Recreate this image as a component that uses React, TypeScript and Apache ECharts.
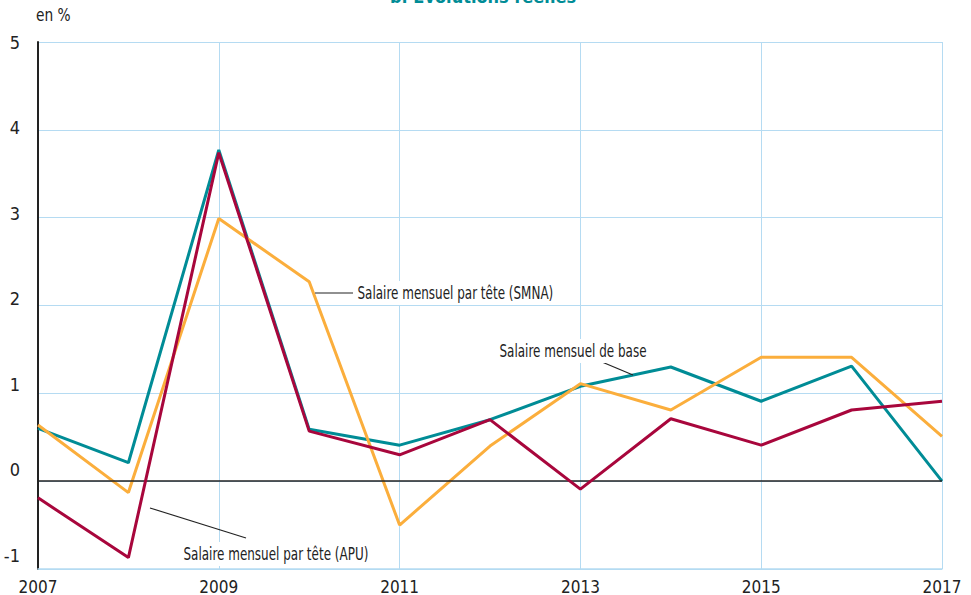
import React, { useEffect, useRef } from "react";
import * as echarts from "echarts";

const years = ["2007", "2008", "2009", "2010", "2011", "2012", "2013", "2014", "2015", "2016", "2017"];
const baseSalary = [0.6, 0.21, 3.77, 0.59, 0.41, 0.7, 1.08, 1.3, 0.91, 1.31, 0];
const smna = [0.64, -0.13, 2.99, 2.27, -0.5, 0.4, 1.11, 0.81, 1.41, 1.41, 0.51];
const apu = [-0.19, -0.87, 3.74, 0.57, 0.3, 0.7, -0.09, 0.71, 0.41, 0.81, 0.91];
const yMin = -1;
const yMax = 5;
const yStep = 1;

const FONT = '"DejaVu Sans Condensed", "Liberation Sans Narrow", "Roboto", sans-serif';
const GRID = "#b5dbf2";
const TEAL = "#008c96";
const ORANGE = "#fbae3c";
const RED = "#a8063c";
const INK = "#222";

// rich styles to reproduce the slightly compressed spacing of the y tick labels
const yRich: Record<string, any> = {};
for (let i = 0; i <= yMax - yMin; i++) {
  yRich["l" + i] = {
    fontSize: 18,
    color: INK,
    fontFamily: FONT,
    padding: [0, 0, Math.round(i * 4.6), 0],
  };
}

export default function App() {
  const ref = useRef<HTMLDivElement>(null);
  useEffect(() => {
    const chart = echarts.init(ref.current!, null, { renderer: "svg" });
    const lineSeries = (name: string, data: number[], color: string, z: number) => ({
      type: "line",
      name,
      data,
      z,
      symbol: "none",
      lineStyle: { color, width: 3 },
      itemStyle: { color },
    });
    const note = (text: string, x: number, y: number) => ({
      type: "text",
      x,
      y,
      z: 10,
      scaleX: 0.74,
      style: {
        text,
        fontSize: 18,
        fill: INK,
        fontFamily: FONT,
        verticalAlign: "middle",
        backgroundColor: "#fff",
        padding: [3, 2, 3, 2],
      },
    });
    const leader = (x1: number, y1: number, x2: number, y2: number) => ({
      type: "line",
      z: 10,
      shape: { x1, y1, x2, y2 },
      style: { stroke: INK, lineWidth: 1.2 },
    });
    chart.setOption({
      animation: false,
      textStyle: { fontFamily: FONT },
      grid: { left: 38, right: 29, top: 42, bottom: 25, containLabel: false },
      xAxis: {
        type: "category",
        data: years,
        boundaryGap: false,
        axisLine: { show: true, onZero: false, lineStyle: { color: GRID, width: 1.5 } },
        axisTick: { show: false },
        axisLabel: { interval: 1, color: INK, fontSize: 17, margin: 9, fontFamily: FONT },
        splitLine: {
          show: true,
          interval: (i: number) => i % 2 === 0,
          lineStyle: { color: GRID, width: 1 },
        },
      },
      yAxis: {
        type: "value",
        min: yMin,
        max: yMax,
        interval: yStep,
        axisLine: { show: true, lineStyle: { color: INK, width: 2 } },
        axisTick: { show: false },
        axisLabel: {
          color: INK,
          fontSize: 18,
          margin: 18,
          fontFamily: FONT,
          formatter: (v: number) => `{l${yMax - v}|${v}}`,
          rich: yRich,
        },
        splitLine: { show: true, lineStyle: { color: GRID, width: 1 } },
      },
      series: [
        {
          ...lineSeries("Salaire mensuel de base", baseSalary, TEAL, 3),
          markLine: {
            silent: true,
            symbol: "none",
            label: { show: false },
            lineStyle: { color: INK, width: 1.5, type: "solid" },
            data: [{ yAxis: 0 }],
          },
        },
        lineSeries("Salaire mensuel par tête (SMNA)", smna, ORANGE, 4),
        lineSeries("Salaire mensuel par tête (APU)", apu, RED, 5),
      ],
      graphic: [
        {
          type: "text",
          x: 36,
          y: 7,
          scaleX: 0.9,
          style: { text: "en %", fontSize: 17, fill: INK, fontFamily: FONT },
        },
        {
          type: "text",
          x: 483,
          y: -13,
          style: {
            text: "b. Évolutions réelles",
            fontSize: 18,
            fontWeight: "bold",
            fill: TEAL,
            fontFamily: FONT,
            align: "center",
          },
        },
        leader(315, 293, 353, 293),
        note("Salaire mensuel par tête (SMNA)", 356, 293),
        leader(602, 362, 633, 375),
        note("Salaire mensuel de base", 498, 351),
        leader(150, 508, 246, 538),
        note("Salaire mensuel par tête (APU)", 182, 554),
      ],
    });
    return () => chart.dispose();
  }, []);
  return (
    <div
      ref={ref}
      style={{ position: "fixed", left: 0, top: 0, width: 971, height: 595, background: "#fff" }}
    />
  );
}
